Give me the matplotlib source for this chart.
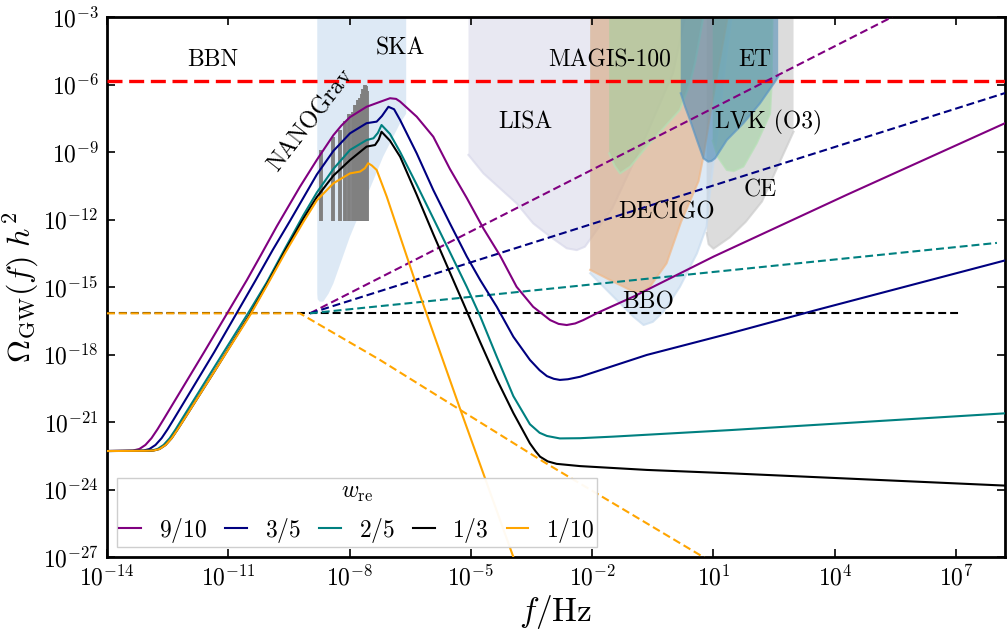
import numpy as np
import matplotlib
matplotlib.use("Agg")
import matplotlib.pyplot as plt

plt.rcParams['mathtext.fontset'] = 'cm'
plt.rcParams['font.family'] = ['cmr10', 'DejaVu Sans']
plt.rcParams['axes.unicode_minus'] = False

# ---------------- data (log10 values) ----------------
# solid curves: log10 f  /  log10 Omega h^2
p_lf = [-14, -13.6, -13.36, -13.2, -13.05, -12.9, -12.75, -12.6, -11.6, -10.54, -10.2, -9.80,
        -9.23, -8.81, -8.40, -8.2, -7.99, -7.58, -7.17, -7.00, -6.85, -6.75, -6.34, -5.93, -5.52, -5.10,
        -4.69, -4.28, -3.87, -3.46, -3.04, -2.83, -2.63, -2.42, -2.22, -1.81, -0.98, 1.0, 4.3, 8.21]
p_lo = [-22.29, -22.28, -22.27, -22.2, -22.02, -21.72, -21.32, -20.88, -17.9, -14.69, -13.6, -12.3,
        -10.55, -9.35, -8.25, -7.82, -7.45, -6.99, -6.72, -6.61, -6.64, -6.76, -7.43, -8.32, -9.75, -11.05,
        -12.4, -13.6, -14.99, -15.88, -16.47, -16.64, -16.69, -16.62, -16.47, -16.10, -15.43, -13.65, -10.9, -7.72]

b_lf = [-14, -13.3, -13.1, -12.95, -12.8, -12.65, -12.5, -12.35, -11.35, -10.34, -9.9, -9.47,
        -8.81, -8.40, -7.99, -7.58, -7.33, -7.2, -7.04, -6.9, -6.75, -6.34, -5.93, -5.52, -5.10, -4.77,
        -4.36, -3.95, -3.54, -3.3, -3.12, -2.95, -2.80, -2.6, -2.30, -0.65, 1.41, 3.55, 8.25]
b_lo = [-22.29, -22.28, -22.27, -22.2, -22.02, -21.72, -21.32, -20.88, -17.9, -14.75, -13.35, -12.05,
        -10.0, -8.95, -8.17, -7.72, -7.65, -7.4, -6.99, -7.1, -7.58, -9.06, -10.69, -12.17, -13.65, -14.69,
        -15.88, -17.21, -18.24, -18.7, -18.96, -19.08, -19.13, -19.1, -18.99, -18.02, -17.06, -16.02, -13.8]

t_lf = [-14, -13.1, -12.9, -12.75, -12.6, -12.45, -12.3, -12.15, -11.29, -10.46, -10.05, -9.6, -9.14,
        -8.81, -8.40, -7.99, -7.58, -7.41, -7.3, -7.21, -7.0, -6.75, -6.34, -5.93, -5.52, -5.10, -4.77,
        -4.36, -3.95, -3.54, -3.3, -3.12, -2.80, -2.3, -1.48, 1.41, 8.25]
t_lo = [-22.29, -22.28, -22.27, -22.2, -22.02, -21.72, -21.32, -20.88, -18.4, -16.02, -14.8, -13.3, -11.8,
        -10.8, -9.75, -8.91, -8.47, -8.39, -8.15, -7.80, -8.2, -9.0, -10.45, -11.95, -13.45, -15.0, -16.3,
        -18.1, -19.85, -21.1, -21.48, -21.62, -21.73, -21.72, -21.65, -21.36, -20.61]

k_lf = [-14, -13.05, -12.85, -12.7, -12.55, -12.4, -12.25, -12.1, -11.29, -10.46, -10.05, -9.6, -9.14,
        -8.81, -8.40, -7.99, -7.58, -7.37, -7.28, -7.21, -7.0, -6.75, -6.34, -5.93, -5.52, -5.18, -4.77,
        -4.36, -3.95, -3.54, -3.4, -3.29, -3.1, -2.88, -2.30, -0.65, 1.41, 8.25]
k_lo = [-22.29, -22.28, -22.27, -22.2, -22.02, -21.72, -21.32, -20.9, -18.6, -16.2, -14.9, -13.4, -11.95,
        -11.0, -10.05, -9.36, -8.76, -8.69, -8.45, -8.10, -8.5, -9.21, -10.9, -12.65, -14.35, -15.75, -17.45,
        -19.1, -20.6, -21.95, -22.3, -22.54, -22.75, -22.86, -22.96, -23.13, -23.28, -23.83]

o_lf = [-14, -13.05, -12.85, -12.7, -12.55, -12.4, -12.25, -12.1, -11.29, -10.46, -10.05, -9.6, -9.14,
        -8.81, -8.40, -7.99, -7.74, -7.62, -7.54, -7.45, -7.33, -7.08, -6.75, -6.34, -5.27, -4.53, -3.95]
o_lo = [-22.29, -22.28, -22.27, -22.2, -22.02, -21.72, -21.32, -20.9, -18.6, -16.25, -14.95, -13.5, -12.1,
        -11.15, -10.39, -9.95, -9.87, -9.72, -9.50, -9.6, -9.80, -10.99, -12.76, -14.95, -20.4, -24.1, -27.0]

# dashed (extrapolated) lines
pd_lf, pd_lo = [-8.98, 5.42], [-16.17, -3.0]
bd_lf, bd_lo = [-8.98, 8.21], [-16.17, -6.38]
td_lf, td_lo = [-8.98, 8.01], [-16.17, -13.04]
kd_lf, kd_lo = [-14, 7.1], [-16.17, -16.17]
od_lf, od_lo = [-14, -9.23, -7.25, -3.22, 0.84], [-16.17, -16.17, -18.24, -22.75, -27.1]
bbn_lo = -5.83

labels = ['$9/10$', '$3/5$', '$2/5$', '$1/3$', '$1/10$']
colors = ['purple', 'navy', 'teal', 'black', 'orange']

# sensitivity regions: lower boundaries (log10 f, log10 Omega)
ska_lf = [-8.80, -8.79, -8.74, -8.65, -8.52, -8.40, -7.99, -7.58, -7.17, -6.75, -6.60]
ska_lo = [-15.3, -15.55, -15.65, -15.65, -15.3, -14.84, -12.76, -10.99, -9.21, -7.72, -7.3]
lisa_lf = [-5.06, -4.69, -3.87, -3.46, -3.04, -2.63, -2.38, -2.18, -1.5, -1.06, -0.6, 0.0, 0.3]
lisa_lo = [-9.13, -9.95, -11.28, -12.17, -12.76, -13.28, -13.36, -13.21, -11.5, -9.8, -8.0, -5.5, -3.0]
ce_lf = [0.83, 0.88, 1.0, 1.4, 1.8, 2.2, 2.6, 2.98]
ce_lo = [-12.6, -13.1, -13.3, -12.8, -12.1, -11.2, -9.6, -8.1]
bbo_lf = [-2.05, -1.56, -0.98, -0.73, -0.5, -0.24, 0.17, 0.59, 0.83, 0.9, 1.0, 1.15, 1.3, 1.45]
bbo_lo = [-14.39, -15.28, -16.32, -16.69, -16.55, -16.1, -14.99, -13.51, -12.32, -11.0, -9.5, -7.5, -5.0, -3.0]
dec_lf = [-2.05, -1.56, -0.98, -0.75, -0.57, -0.16, 0.2, 0.63, 0.75, 0.83, 0.95, 1.15, 1.35]
dec_lo = [-14.24, -14.69, -15.21, -15.2, -14.99, -13.95, -12.1, -10.3, -9.21, -8.32, -7.0, -5.0, -3.0]
mag_lf = [-1.58, -1.45, -1.31, -1.06, -0.65, 0.17, 0.42, 0.55, 0.75]
mag_lo = [-9.06, -9.6, -9.95, -9.65, -8.76, -7.13, -5.95, -5.0, -3.0]
lvk_lf = [0.98, 1.1, 1.33, 1.5, 1.74, 2.07, 2.4, 2.44, 2.46]
lvk_lo = [-8.5, -9.2, -9.8, -9.85, -9.65, -8.61, -7.3, -5.95, -3.0]
et_lf = [0.19, 0.3, 0.42, 0.59, 0.75, 0.87, 0.95, 1.04, 1.33, 1.74, 2.15, 2.52, 2.60]
et_lo = [-6.39, -7.0, -7.58, -8.47, -9.28, -9.43, -9.4, -9.28, -8.47, -7.72, -6.84, -5.88, -5.65]

# NANOGrav violins: frequency bins n/T and top values
ng_f1 = 1.98e-9
ng_n = list(range(1, 15))
ng_top = [-8.9, -8.35, -8.0, -7.6, -7.3, -7.2, -6.9, -6.7, -6.6, -6.4, -6.2, -6.0, -6.05, -6.3]
ng_bot = -12.05

# text labels: (text, log10 f, log10 Omega, rotation)
texts = [('BBN', -11.38, -4.91, 0), ('SKA', -6.75, -4.38, 0), ('NANOGrav', -8.95, -7.58, 52),
         ('LISA', -3.66, -7.67, 0), ('MAGIS-100', -1.56, -4.91, 0), ('ET', 2.03, -4.91, 0),
         ('LVK (O3)', 2.35, -7.67, 0), ('CE', 2.15, -10.69, 0), ('DECIGO', -0.15, -11.67, 0),
         ('BBO', -0.62, -15.67, 0)]

xticks_exp = [-14, -11, -8, -5, -2, 1, 4, 7]
yticks_exp = [-27, -24, -21, -18, -15, -12, -9, -6, -3]
xlim_exp = (-14, 8.21)
ylim_exp = (-27, -3)


def P(a):
    return np.power(10.0, np.asarray(a, dtype=float))


fig = plt.figure(figsize=(10.07, 6.3), dpi=100)
ax = fig.add_axes([107 / 1007, 1 - 557 / 630, (1005 - 107) / 1007, (557 - 17) / 630])
ax.set_xscale('log')
ax.set_yscale('log')

TOP = 1e-1


def region(lf, lo, face, alpha, edge=None, z=1):
    x = P(lf)
    y = P(lo)
    ax.fill_between(x, y, TOP, facecolor=face, alpha=alpha, lw=0, zorder=z)
    if edge is not None:
        ax.plot(x, y, color=edge, lw=1.5, alpha=0.7, zorder=z)


region(ska_lf, ska_lo, '#bdd5ed', 0.5, None, 1)
region(lisa_lf, lisa_lo, '#d3d3e7', 0.5, '#d8d8ea', 1)
region(ce_lf, ce_lo, '#bbbbbb', 0.5, '#cccccc', 1)
region(bbo_lf, bbo_lo, '#bdd5ed', 0.5, '#c9dcef', 1)
region(dec_lf, dec_lo, '#e8a368', 0.5, '#f0b888', 1)
region(mag_lf, mag_lo, '#9ad19a', 0.5, '#b5dfb5', 1)
region(lvk_lf, lvk_lo, '#9ad19a', 0.5, '#b5dfb5', 1)
region(et_lf, et_lo, '#3a7fb0', 0.5, '#5b96c4', 1)

# NANOGrav violins
ax.vlines(ng_f1 * np.array(ng_n), P(ng_bot), P(ng_top), color='gray', lw=2.8, zorder=2)

# BBN bound
ax.axhline(P(bbn_lo), color='red', ls=(0, (4.5, 2.0)), lw=2.4, zorder=3)

# dashed lines
dash = (0, (3.8, 1.9))
ax.plot(P(kd_lf), P(kd_lo), color='black', ls=dash, lw=1.5, zorder=3)
ax.plot(P(pd_lf), P(pd_lo), color='purple', ls=dash, lw=1.5, zorder=3)
ax.plot(P(bd_lf), P(bd_lo), color='navy', ls=dash, lw=1.5, zorder=3)
ax.plot(P(td_lf), P(td_lo), color='teal', ls=dash, lw=1.5, zorder=3)
ax.plot(P(od_lf), P(od_lo), color='orange', ls=dash, lw=1.5, zorder=3)

# solid curves
series = [(p_lf, p_lo), (b_lf, b_lo), (t_lf, t_lo), (k_lf, k_lo), (o_lf, o_lo)]
handles = []
for (lf, lo), c, lab in zip(series, colors, labels):
    h, = ax.plot(P(lf), P(lo), color=c, lw=1.5, label=lab, zorder=4)
    handles.append(h)

for s, lf, lo, rot in texts:
    ax.text(P(lf), P(lo), s, fontsize=17, ha='center', va='center', rotation=rot,
            rotation_mode='anchor', family=['cmr10', 'DejaVu Sans'], zorder=5)

ax.set_xlim(P(xlim_exp[0]), P(xlim_exp[1]))
ax.set_ylim(P(ylim_exp[0]), P(ylim_exp[1]))
ax.set_xticks(P(xticks_exp))
ax.set_xticklabels(['$10^{%d}$' % e for e in xticks_exp])
ax.set_yticks(P(yticks_exp))
ax.set_yticklabels(['$10^{%d}$' % e for e in yticks_exp])
ax.minorticks_off()
ax.tick_params(which='major', direction='in', top=True, right=True, length=6, width=1.2,
               labelsize=17, pad=6)
for sp in ax.spines.values():
    sp.set_linewidth(2.0)

ax.set_xlabel(r'$f/{\rm Hz}$', fontsize=24, labelpad=2)
ax.set_ylabel(r'$\Omega_{\rm GW}(f)\ h^2$', fontsize=23)
ax.yaxis.set_label_coords(-0.073, 0.5)

leg = ax.legend(handles=handles, title=r'$w_{\rm re}$', ncol=5, loc='lower left', fontsize=17,
                title_fontsize=17, handlelength=0.93, handletextpad=0.76, columnspacing=0.75,
                frameon=True, fancybox=False, edgecolor='#cccccc', framealpha=0.95,
                borderaxespad=0.42, borderpad=0.1)
leg.get_frame().set_linewidth(1.0)
leg.set_zorder(10)

fig.savefig('out.png', dpi=100)
